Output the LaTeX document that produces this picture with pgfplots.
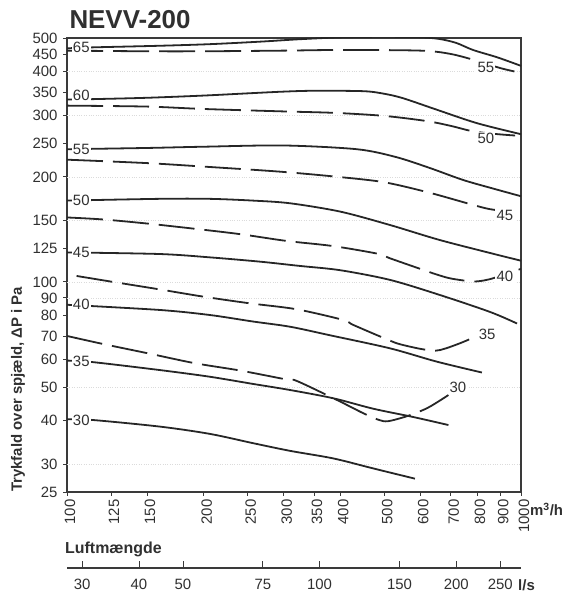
\documentclass[border=0pt]{standalone}
\usepackage{fontspec}
\setmainfont{Liberation Sans}
\usepackage{pgfplots}
\pgfplotsset{compat=1.18}
\definecolor{ink}{HTML}{262626}
\definecolor{frame}{HTML}{3A3A3A}
\definecolor{txt}{HTML}{303030}
\newcommand{\tickfont}{\fontsize{15}{15}\selectfont}
\begin{document}
\begin{tikzpicture}[
  solidc/.style={ink, line width=1.8bp, smooth, tension=0.5},
  dashc/.style={ink, line width=1.8bp, smooth, tension=0.5, dash pattern=on 36bp off 10bp},
  lbl/.style={fill=white, inner xsep=1.2bp, inner ysep=2bp, font=\tickfont, text=txt}]
\useasboundingbox (-67bp,-103bp) rectangle (497bp,492bp);
\begin{axis}[name=main, at={(0,0)}, anchor=south west, scale only axis,
  width=454bp, height=454bp,
  xmode=log, ymode=log, xmin=100, xmax=1000, ymin=25, ymax=500,
  xtick={100,125,150,200,250,300,350,400,500,600,700,800,900,1000},
  xticklabels={100,125,150,200,250,300,350,400,500,600,700,800,900,1000},
  ytick={25,30,40,50,60,70,80,90,100,125,150,200,250,300,350,400,450,500},
  yticklabels={25,30,40,50,60,70,80,90,100,125,150,200,250,300,350,400,450,500},
  xminorticks=false, yminorticks=false,
  tick align=outside, xtick pos=bottom, ytick pos=left, major tick length=4bp,
  tick style={frame, line width=0.8bp},
  axis line style={frame, line width=1.8bp},
  ticklabel style={font=\tickfont, text=txt},
  xticklabel style={rotate=90, anchor=east, yshift=-3bp},
  yticklabel style={xshift=-2bp},
  /pgf/number format/assume math mode=true,
  extra y ticks={30,50,90,100,150,200,300,400},
  extra y tick labels={,,,,,,,},
  extra y tick style={grid=major, major grid style={gray!28, dotted, line width=0.7bp}, major tick length=0pt},
  clip=true,
]
% solid curves
\addplot[solidc] coordinates {(100,467)(114,470)(160,475)(206,480)(266,488)(326,496)(400,502)(500,504)(600,502)(660,497)(720,484)(784,462)(887,440)(1000,416)};
\addplot[solidc] coordinates {(100,333)(114,334)(150,337)(200,342)(250,347)(300,351)(350,353)(450,352)(500,346)(550,336)(650,312)(800,285)(1000,265)};
\addplot[solidc] coordinates {(100,240)(150,242)(200,244)(300,246)(435,240)(530,228)(630,212)(745,196)(870,185)(1000,176)};
\addplot[solidc] coordinates {(100,171)(160,173)(206,173)(257,171)(310,168)(400,159)(515,145.5)(660,132)(855,121)(1000,115)};
\addplot[solidc] coordinates {(100,121.5)(160,120.2)(206,117.6)(266,114.3)(326,111.1)(400,108)(515,101.3)(663,91.7)(855,82)(980,76)};
\addplot[solidc] coordinates {(100,86)(160,83.1)(206,80.4)(257,77)(310,74.4)(380,70.3)(515,64.5)(652,59.1)(820,55)};
\addplot[solidc] coordinates {(100,59.5)(114,58.9)(160,55.9)(206,53.5)(257,51)(310,49)(386,46.4)(473,43.3)(579,41.0)(692,38.9)};
\addplot[solidc] coordinates {(100,40.4)(114,40.2)(160,38.5)(206,36.7)(257,34.5)(310,32.8)(386,31.2)(473,29.2)(584,27.3)};
% dashed curves
\addplot[dashc] coordinates {(100,460)(150,458)(200,458)(300,460)(400,462)(600,460)(700,450)(800,430)(900,410)(1000,397)};
\addplot[dashc] coordinates {(100,320)(150,318)(200,313)(300,308)(390,305)(500,299)(620,289)(700,280)(785,270)(890,265)(1000,262)};
\addplot[dashc] coordinates {(100,224)(150,219)(200,214)(294,207)(395,200)(500,193)(630,180)(800,165)(870,161)(1000,158)};
\addplot[dashc] coordinates {(100,153)(120,151)(150,147)(191,142)(241,137)(305,131)(385,126.7)(487,120.2)(515,116.8)(617,107.6)(652,105)(700,102.3)(780,100.3)(830,101)(880,103)(1000,109)};
\addplot[dashc] coordinates {(105,104)(125,100.2)(159,95.3)(200,90.7)(253,86.8)(320,83.5)(406,77.8)(427,75.3)(510,68.2)(541,66.3)(600,64.3)(647,63.5)(683,64.5)(740,67)(800,70)};
\addplot[dashc] coordinates {(100,70)(120,66.4)(151,62.4)(191,58.5)(241,55.7)(305,52.5)(321,52)(393,45.9)(450,42)(487,40.2)(510,39.9)(560,41.2)(615,43.2)(652,45.1)(692,47.4)};
% labels
\node[lbl] at (axis cs:107.5,470) {65};
\node[lbl, yshift=4bp] at (axis cs:107.5,333) {60};
\node[lbl] at (axis cs:107.5,240) {55};
\node[lbl] at (axis cs:107.5,171) {50};
\node[lbl] at (axis cs:107.5,121.5) {45};
\node[lbl] at (axis cs:107.5,86) {40};
\node[lbl] at (axis cs:107.5,59.3) {35};
\node[lbl] at (axis cs:107.5,40.2) {30};
\node[lbl] at (axis cs:837,412) {55};
\node[lbl] at (axis cs:837,257) {50};
\node[lbl] at (axis cs:922,155.3) {45};
\node[lbl] at (axis cs:922,103.5) {40};
\node[lbl] at (axis cs:842,70.9) {35};
\node[lbl] at (axis cs:726,50) {30};
\end{axis}
\node[anchor=base west, font=\bfseries\fontsize{26}{26}\selectfont, text=txt] at (-1bp,463bp) {NEVV-200};
\node[rotate=90, anchor=west, inner sep=0pt, font=\bfseries\fontsize{15}{15}\selectfont, text=txt] at (-49bp,0bp) {Trykfald over spjæld, ΔP i Pa};
\node[anchor=west, inner sep=0pt, font=\bfseries\tickfont, text=txt] at (463bp,-17.5bp) {m\textsuperscript{3}/h};
\node[anchor=base west, inner sep=0pt, font=\bfseries\fontsize{16}{16}\selectfont, text=txt] at (-2bp,-61bp) {Luftmængde};
\node[anchor=west, inner sep=0pt, font=\bfseries\tickfont, text=txt] at (451bp,-93bp) {l/s};
\begin{axis}[at={(0,-76.3bp)}, anchor=south west, scale only axis, width=454bp, height=20bp,
  xmode=log, xmin=27.7778, xmax=277.778, ymin=0, ymax=1,
  axis x line*=bottom, axis y line=none,
  xtick={30,40,50,75,100,150,200,250}, xticklabels={30,40,50,75,100,150,200,250},
  xminorticks=false, xtick align=inside, major tick length=7bp,
  tick style={frame, line width=0.8bp}, axis line style={frame, line width=1.8bp},
  xticklabel style={font=\tickfont, text=txt, anchor=north, yshift=-7bp},
  /pgf/number format/assume math mode=true]
\addplot[draw=none] coordinates {(30,0.5)};
\end{axis}
\end{tikzpicture}
\end{document}
